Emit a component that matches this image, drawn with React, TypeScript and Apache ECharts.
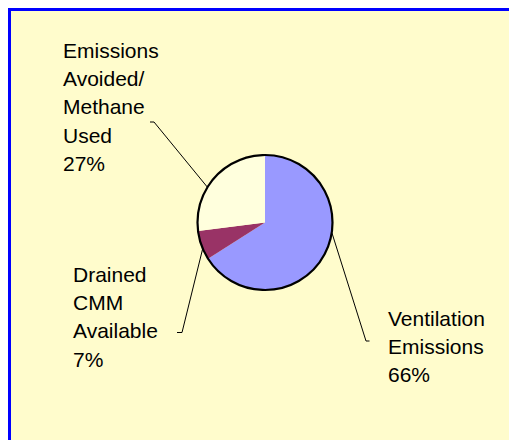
import React, { useEffect, useRef } from "react";
import * as echarts from "echarts";

// ---- data ----
const categories: string[] = [
  "Ventilation\nEmissions",
  "Drained\nCMM\nAvailable",
  "Emissions\nAvoided/\nMethane\nUsed",
];
const values: number[] = [66, 7, 27];
const sliceColors: string[] = ["#9999FF", "#993366", "#FFFFDD"];

// ---- layout (positions only) ----
const W = 509;
const H = 440;
const CX = 265;
const CY = 222.5;
const R = 67.5;
const FONT = 21;
const LINE_H = 28.3;
// label top-left and leader line geometry per slice
const labelPos = [
  { x: 388, y: 304, edgeAngle: 98.4, bend: [366, 341], end: [369.5, 341] },
  { x: 73, y: 260, edgeAngle: 247.3, bend: [182, 332.5], end: [177, 332.5] },
  { x: 63, y: 36, edgeAngle: 301.5, bend: [154, 122], end: [150, 122] },
];

function edgePoint(angleDeg: number): number[] {
  const a = (angleDeg * Math.PI) / 180;
  return [CX + R * Math.sin(a), CY - R * Math.cos(a)];
}

export default function App() {
  const ref = useRef<HTMLDivElement>(null);
  useEffect(() => {
    if (!ref.current) return;
    const chart = echarts.init(ref.current, null, { renderer: "svg" });
    chart.setOption({
      animation: false,
      backgroundColor: "#FFFCCC",
      graphic: [
        {
          type: "rect",
          z: 0,
          shape: { x: 0, y: 0, width: W, height: 8 },
          style: { fill: "#FFFFFF" },
          silent: true,
        },
        {
          type: "rect",
          z: 0,
          shape: { x: 0, y: 0, width: 8, height: H },
          style: { fill: "#FFFFFF" },
          silent: true,
        },
        {
          type: "rect",
          z: 1,
          shape: { x: 8, y: 8, width: W - 8, height: 3 },
          style: { fill: "#0000FF" },
          silent: true,
        },
        {
          type: "rect",
          z: 1,
          shape: { x: 8, y: 8, width: 3, height: H - 8 },
          style: { fill: "#0000FF" },
          silent: true,
        },
        {
          type: "circle",
          z: 100,
          shape: { cx: CX, cy: CY, r: R },
          style: { fill: "none", stroke: "#000000", lineWidth: 2.2 },
          silent: true,
        },
      ],
      series: [
        {
          type: "pie",
          center: [CX, CY],
          radius: R,
          startAngle: 90,
          clockwise: true,
          percentPrecision: 0,
          silent: true,
          z: 5,
          itemStyle: { borderWidth: 0 },
          data: categories.map((name, i) => ({
            name,
            value: values[i],
            itemStyle: { color: sliceColors[i] },
          })),
          label: {
            show: true,
            position: "outside",
            formatter: "{b}\n{d}%",
            fontFamily: "Liberation Sans, Arial, sans-serif",
            fontSize: FONT,
            lineHeight: LINE_H,
            color: "#000000",
          },
          labelLine: {
            show: true,
            lineStyle: { color: "#000000", width: 1 },
          },
          labelLayout: (params: any) => {
            const p = labelPos[params.dataIndex];
            return {
              x: p.x,
              y: p.y,
              align: "left",
              verticalAlign: "top",
              labelLinePoints: [edgePoint(p.edgeAngle), p.bend, p.end],
            };
          },
        },
      ],
    });
    return () => chart.dispose();
  }, []);
  return (
    <div
      ref={ref}
      style={{ position: "absolute", left: 0, top: 0, width: W, height: H }}
    />
  );
}
